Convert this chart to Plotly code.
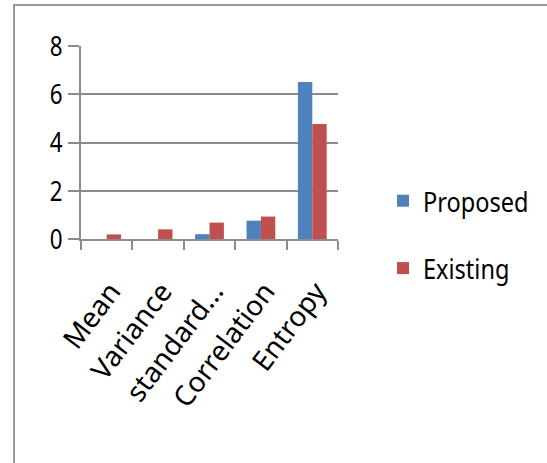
import plotly.graph_objects as go

# Texture features compared for the two methods
categories = ["Mean", "Variance", "standard...", "Correlation", "Entropy"]
proposed = [0.0, 0.0, 0.2, 0.76, 6.51]
existing = [0.19, 0.4, 0.68, 0.93, 4.77]

BLUE = "#4F81BD"
RED = "#C0504D"
GRID = "#8C8C8C"
FONT = "Noto Sans, sans-serif"

fig = go.Figure()
fig.add_trace(go.Bar(name="Proposed", x=categories, y=proposed,
                     marker=dict(color=BLUE, line=dict(width=0)),
                     legendgroup="p"))
fig.add_trace(go.Bar(name="Existing", x=categories, y=existing,
                     marker=dict(color=RED, line=dict(width=0)),
                     legendgroup="e"))

# plot area spans pixels 81..338 horizontally and 46..239 vertically
L, R, T, B = 81, 547 - 338, 46, 463 - 239
W, H = 547 - L - R, 463 - T - B

def px_x(p):
    return (p - L) / W

def px_y(p):
    return (463 - B - p) / H

# outer chart frame
fig.add_shape(type="rect", xref="paper", yref="paper",
              x0=px_x(14), x1=px_x(560), y0=px_y(480), y1=px_y(5),
              line=dict(color="#999999", width=2), fillcolor="rgba(0,0,0,0)")

fig.update_layout(
    width=547, height=463,
    margin=dict(l=L, r=R, t=T, b=B, autoexpand=False),
    paper_bgcolor="white", plot_bgcolor="white",
    barmode="group", bargap=0.44, bargroupgap=0,
    showlegend=True,
    legend=dict(x=px_x(383), y=px_y(176), xanchor="left", yanchor="top",
                font=dict(family=FONT, size=28, color="black"),
                tracegroupgap=28, traceorder="grouped",
                bgcolor="rgba(0,0,0,0)"),
    xaxis=dict(showgrid=False, showline=True, linecolor=GRID, linewidth=1.5,
               ticks="outside", tickson="boundaries", ticklen=9,
               tickcolor=GRID, tickwidth=1.5, tickangle=-53,
               ticklabelstandoff=23, ticklabelshift=4,
               tickfont=dict(family=FONT, size=28, color="black")),
    yaxis=dict(range=[0, 8], dtick=2, showgrid=True, gridcolor=GRID, gridwidth=1.5,
               showline=True, linecolor=GRID, linewidth=1.5,
               ticks="outside", ticklen=11, tickcolor=GRID, tickwidth=1.5,
               zeroline=False,
               tickfont=dict(family=FONT, size=28, color="black")),
)

# narrow lettering for the value axis numbers and the legend entries
condense = """
var gd = document.getElementById('{plot_id}');
function squeeze() {
  var groups = [['.ytick text', 0.8], ['.legendtext', 0.84]];
  groups.forEach(function (g) {
    document.querySelectorAll(g[0]).forEach(function (t) {
      if (t.getAttribute('data-sq')) return;
      var w = t.getComputedTextLength();
      t.setAttribute('textLength', (w * g[1]).toFixed(1));
      t.setAttribute('lengthAdjust', 'spacingAndGlyphs');
      t.setAttribute('data-sq', '1');
    });
  });
}
squeeze();
if (gd && gd.on) gd.on('plotly_afterplot', squeeze);
"""

fig.write_html("out.html", post_script=condense)
